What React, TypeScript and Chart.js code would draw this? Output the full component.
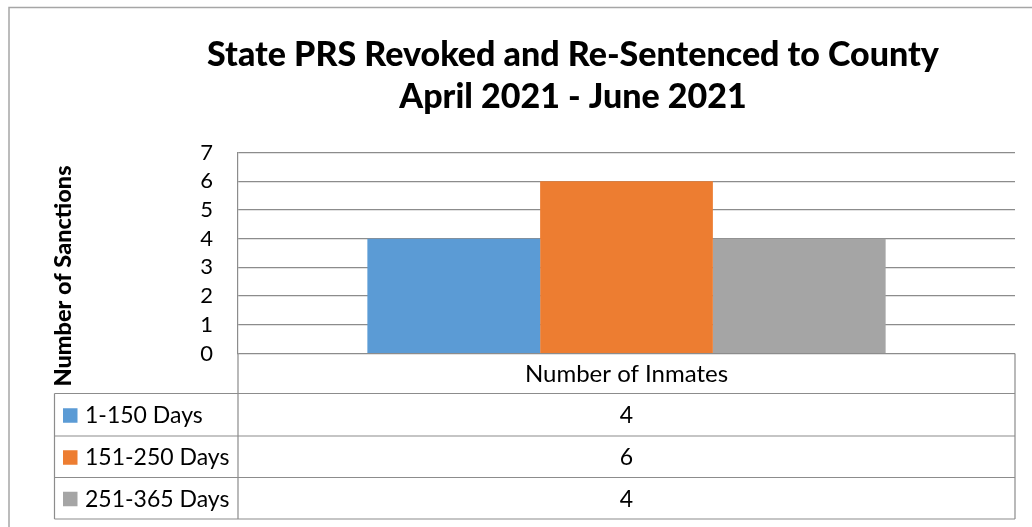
import React, { useEffect, useRef } from "react";
import { Chart, registerables } from "chart.js";

Chart.register(...registerables);

const titleLines = ["State PRS Revoked and Re-Sentenced to County", "April 2021 - June 2021"];
const yAxisTitle = "Number of Sanctions";
const categories = ["Number of Inmates"];
const seriesNames = ["1-150 Days", "151-250 Days", "251-365 Days"];
const series1 = [4];
const series2 = [6];
const series3 = [4];
const seriesColors = ["#5B9BD5", "#ED7D31", "#A5A5A5"];
const yMin = 0;
const yMax = 7;
const yStep = 1;

const FONT = "Lato, Calibri, 'Noto Sans', sans-serif";
const GRID = "#8c8c8c";

const decorPlugin = {
  id: "decor",
  afterDraw(chart: any) {
    const ctx = chart.ctx;
    const area = chart.chartArea;
    const xScale = chart.scales.x;
    ctx.save();

    // outer frame
    ctx.strokeStyle = "#a6a6a6";
    ctx.lineWidth = 1.5;
    ctx.beginPath();
    ctx.moveTo(9, 527);
    ctx.lineTo(9, 7.5);
    ctx.lineTo(1032, 7.5);
    ctx.stroke();

    // title
    ctx.fillStyle = "#000";
    ctx.font = `900 34px ${FONT}`;
    ctx.textAlign = "center";
    ctx.textBaseline = "alphabetic";
    ctx.fillText(titleLines[0], 573, 65.5);
    ctx.fillText(titleLines[1], 573, 107.5);

    // y axis title
    ctx.save();
    ctx.translate(71, 276);
    ctx.rotate(-Math.PI / 2);
    ctx.font = `900 23.5px ${FONT}`;
    ctx.fillText(yAxisTitle, 0, 0);
    ctx.restore();

    // data table
    const tableLeft = 54.5;
    const colLeft = area.left;
    const right = area.right;
    const headerBottom = 393.5;
    const rowBottoms = [436, 477.5, 519];
    ctx.strokeStyle = GRID;
    ctx.lineWidth = 1.2;
    ctx.beginPath();
    ctx.moveTo(colLeft, area.bottom);
    ctx.lineTo(colLeft, rowBottoms[2]);
    ctx.moveTo(right, area.bottom);
    ctx.lineTo(right, rowBottoms[2]);
    ctx.moveTo(tableLeft, headerBottom);
    ctx.lineTo(tableLeft, rowBottoms[2]);
    ctx.moveTo(tableLeft, headerBottom);
    ctx.lineTo(right, headerBottom);
    rowBottoms.forEach((y) => {
      ctx.moveTo(tableLeft, y);
      ctx.lineTo(right, y);
    });
    ctx.stroke();

    ctx.fillStyle = "#000";
    ctx.textBaseline = "middle";
    ctx.textAlign = "center";
    ctx.font = `24px ${FONT}`;
    categories.forEach((c, i) => {
      const cx = xScale.getPixelForValue(i);
      ctx.fillText(c, cx, (area.bottom + headerBottom) / 2 + 1);
    });

    ctx.font = `23px ${FONT}`;
    const tops = [headerBottom, rowBottoms[0], rowBottoms[1]];
    chart.data.datasets.forEach((ds: any, i: number) => {
      const cy = (tops[i] + rowBottoms[i]) / 2 + 1;
      ctx.fillStyle = ds.backgroundColor;
      ctx.fillRect(63, cy - 7.5, 14.5, 14.5);
      ctx.fillStyle = "#000";
      ctx.textAlign = "left";
      ctx.fillText(ds.label, 85, cy);
      ctx.textAlign = "center";
      ds.data.forEach((v: number, j: number) => {
        ctx.fillText(String(v), xScale.getPixelForValue(j), cy);
      });
    });

    ctx.restore();
  },
};

export default function App() {
  const ref = useRef<HTMLCanvasElement>(null);
  useEffect(() => {
    document.body.style.margin = "0";
    let chart: Chart | null = null;
    let cancelled = false;
    const make = () => {
      if (cancelled || !ref.current) return;
      chart = new Chart(ref.current, {
        type: "bar",
        data: {
          labels: categories,
          datasets: [
            { label: seriesNames[0], data: series1, backgroundColor: seriesColors[0] },
            { label: seriesNames[1], data: series2, backgroundColor: seriesColors[1] },
            { label: seriesNames[2], data: series3, backgroundColor: seriesColors[2] },
          ],
        },
        options: {
          responsive: false,
          animation: false,
          devicePixelRatio: 1,
          layout: { padding: { left: 0, right: 17, top: 152.5, bottom: 173.5 } },
          datasets: { bar: { categoryPercentage: 0.667, barPercentage: 1 } },
          plugins: {
            legend: { display: false },
            title: { display: false },
            tooltip: { enabled: false },
          },
          scales: {
            x: { display: false },
            y: {
              min: yMin,
              max: yMax,
              ticks: {
                stepSize: yStep,
                autoSkip: false,
                color: "#000",
                font: { family: FONT, size: 22 },
                padding: 25,
              },
              grid: { color: GRID, lineWidth: 1.2, drawTicks: false },
              border: { display: true, color: GRID, width: 1.2 },
              afterFit: (scale: any) => {
                scale.width = 238;
              },
            },
          },
        },
        plugins: [decorPlugin],
      } as any);
    };
    const fontsApi = (document as any).fonts;
    if (fontsApi && fontsApi.load) {
      Promise.all([
        fontsApi.load(`900 34px Lato`),
        fontsApi.load(`bold 34px Lato`),
        fontsApi.load(`23px Lato`),
      ]).then(make, make);
    } else make();
    return () => {
      cancelled = true;
      if (chart) chart.destroy();
    };
  }, []);
  return (
    <div style={{ width: 1032, height: 527, position: "relative" }}>
      <canvas ref={ref} width={1032} height={527} style={{ width: 1032, height: 527, display: "block" }} />
    </div>
  );
}
